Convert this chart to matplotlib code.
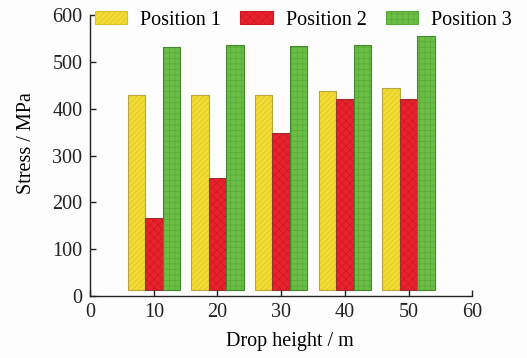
import matplotlib
matplotlib.use("Agg")
import matplotlib.pyplot as plt
from matplotlib.patches import Patch
import numpy as np

plt.rcParams['font.family'] = ['Liberation Serif', 'DejaVu Serif']
plt.rcParams['hatch.linewidth'] = 0.5

heights = [10, 20, 30, 40, 50]
series_names = ["Position 1", "Position 2", "Position 3"]
pos1 = [429, 430, 430, 438, 445]
pos2 = [167, 253, 348, 420, 420]
pos3 = [531, 537, 534, 535, 556]
xticks = [0, 10, 20, 30, 40, 50, 60]
yticks = [0, 100, 200, 300, 400, 500, 600]

FS = 14.5

fig = plt.figure(figsize=(5.27, 3.58), dpi=100)
fig.patch.set_facecolor('#fdfdfd')
ax = fig.add_axes([0.171, 0.173, 0.725, 0.785])
ax.set_facecolor('#fdfdfd')

width = 2.75
base = 12
x = np.array(heights, dtype=float)
styles = [
    dict(color='#f2dc34', hatchc='#dcc02a', edgecolor='#b8a640', hatch='//////'),
    dict(color='#e8222c', hatchc='#cc1822', edgecolor='#9a3030', hatch='xxxx'),
    dict(color='#6cbd46', hatchc='#58a838', edgecolor='#3f8a2c', hatch='+++'),
]
handles = []
for i, (vals, st) in enumerate(zip([pos1, pos2, pos3], styles)):
    v = np.array(vals, dtype=float)
    ax.bar(x + (i - 1) * width, v - base, width, bottom=base,
           facecolor=st['color'], edgecolor=st['hatchc'],
           hatch=st['hatch'], linewidth=0)
    ax.bar(x + (i - 1) * width, v - base, width, bottom=base,
           fill=False, edgecolor=st['edgecolor'], linewidth=0.8)
    handles.append(Patch(facecolor=st['color'], edgecolor=st['hatchc'],
                         hatch=st['hatch'], linewidth=0.8,
                         label=series_names[i]))

ax.set_xlim(0, 60)
ax.set_ylim(0, 600)
ax.set_xticks(xticks)
ax.set_yticks(yticks)
ax.spines['top'].set_visible(False)
ax.spines['right'].set_visible(False)
for s in ['left', 'bottom']:
    ax.spines[s].set_linewidth(1.0)
    ax.spines[s].set_color('#222222')
ax.tick_params(direction='in', length=4, width=1.0, labelsize=FS, colors='#222222')
ax.tick_params(axis='x', pad=5)
ax.tick_params(axis='y', pad=5.5)
ax.set_xlabel('Drop height / m', fontsize=FS, labelpad=7)
ax.set_ylabel('Stress / MPa', fontsize=FS, labelpad=12)
ax.xaxis.label.set_x(0.524)
ax.yaxis.label.set_y(0.545)

leg = ax.legend(handles=handles, loc='upper left', bbox_to_anchor=(0.013, 1.015),
                ncol=3, frameon=False, fontsize=FS, handlelength=1.6,
                handleheight=0.6, handletextpad=0.65, columnspacing=0.95,
                borderaxespad=0.0, borderpad=0.0)

fig.savefig('out.png', dpi=100, facecolor=fig.get_facecolor())
